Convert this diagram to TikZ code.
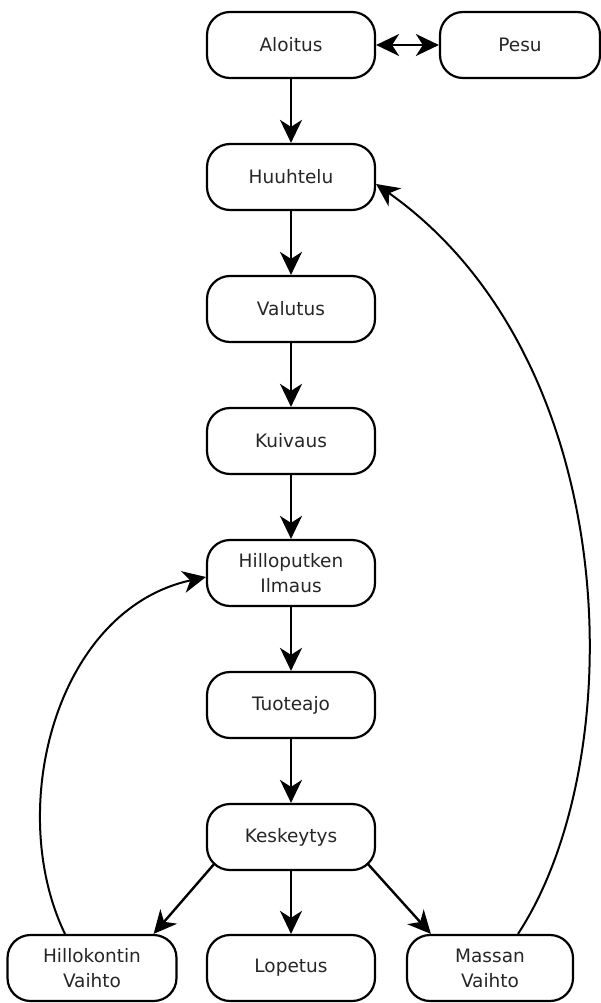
\documentclass[tikz,border=0pt]{standalone}
\usepackage{fontspec}
\setmainfont{DejaVu Sans}
\usetikzlibrary{arrows.meta}
\begin{document}
\begin{tikzpicture}[x=1pt,y=-1pt,
  box/.style={draw, line width=2.2pt, rounded corners=23pt, minimum width=168pt, minimum height=66pt, align=center, inner sep=0pt, font=\fontsize{18.5}{25}\selectfont, text=black!85},
  arr/.style={line width=2.4pt, -{Stealth[length=23pt,width=22pt,inset=7pt]}},
  thinarr/.style={line width=2pt, -{Stealth[length=23pt,width=22pt,inset=7pt]}},
]
\useasboundingbox (0,0) rectangle (601,1003);
\node[box] (alo) at (291,45) {Aloitus};
\node[box, minimum width=160pt] (pes) at (520,45) {Pesu};
\node[box] (huu) at (291,177) {Huuhtelu};
\node[box] (val) at (291,309) {Valutus};
\node[box] (kui) at (291,441) {Kuivaus};
\node[box] (hil) at (291,573) {Hilloputken\\Ilmaus};
\node[box] (tuo) at (291,705) {Tuoteajo};
\node[box] (kes) at (291,837) {Keskeytys};
\node[box, minimum width=169pt] (hk) at (92,968) {Hillokontin\\Vaihto};
\node[box] (lop) at (291,968) {Lopetus};
\node[box, minimum width=166pt] (mas) at (490,968) {Massan\\Vaihto};

\draw[line width=2.4pt, {Stealth[length=23pt,width=22pt,inset=7pt]}-{Stealth[length=23pt,width=22pt,inset=7pt]}] (alo) -- (pes);
\draw[arr] (alo) -- (huu);
\draw[arr] (huu) -- (val);
\draw[arr] (val) -- (kui);
\draw[arr] (kui) -- (hil);
\draw[arr] (hil) -- (tuo);
\draw[arr] (tuo) -- (kes);
\draw[arr] (kes) -- (lop);
\draw[arr] ([shift={(9pt,8pt)}]kes.south west) -- ([xshift=-24pt]hk.north east);
\draw[arr] ([shift={(-9pt,8pt)}]kes.south east) -- ([xshift=25pt]mas.north west);
\draw[thinarr] ([xshift=-27pt]hk.north) .. controls (5,810) and (55,610) .. ([yshift=-4pt]hil.west);
\draw[thinarr] ([xshift=28pt]mas.north) .. controls (632,760) and (625,360) .. ([yshift=-7pt]huu.east);
\end{tikzpicture}
\end{document}
